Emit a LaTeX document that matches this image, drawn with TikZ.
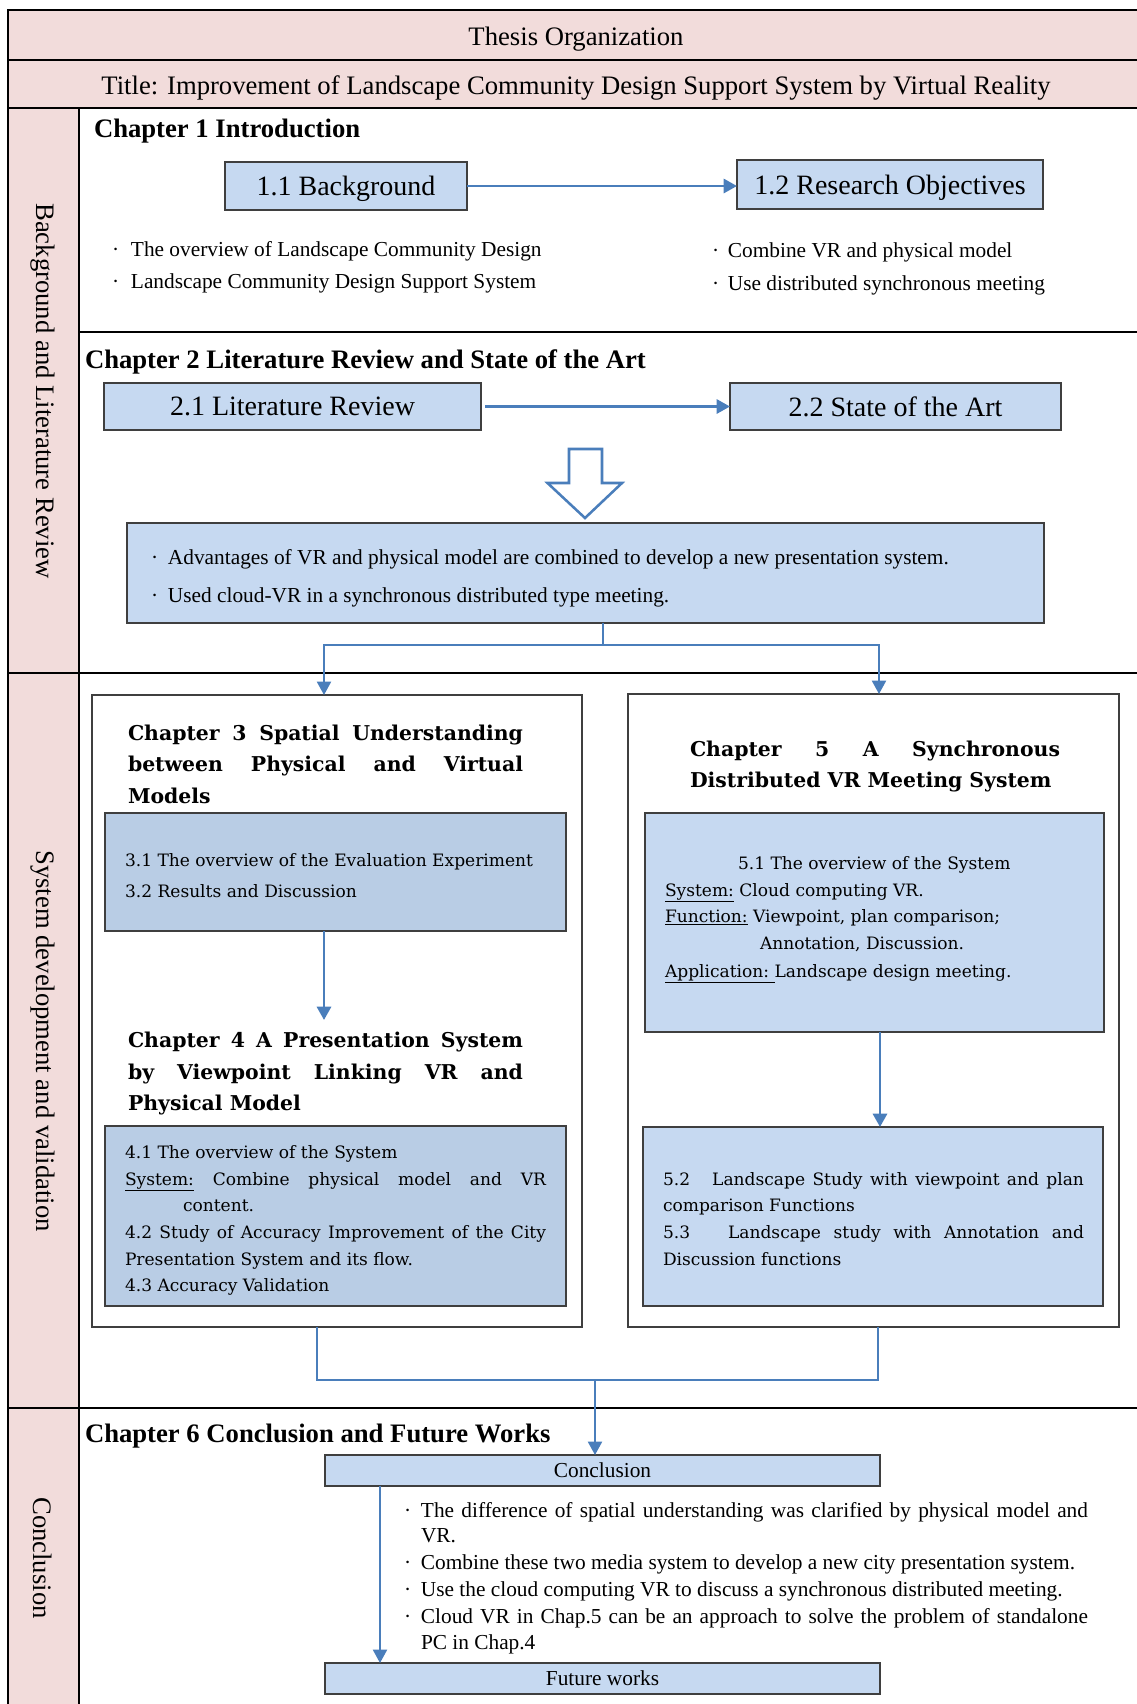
\documentclass[tikz,border=0pt]{standalone}
\usepackage{fontspec}
\setmainfont{Liberation Serif}
\newfontfamily\cent{DejaVu Serif}
\usetikzlibrary{arrows.meta}
\definecolor{pinkbg}{HTML}{F2DCDB}
\definecolor{boxblue}{HTML}{C6D9F1}
\definecolor{boxbluedk}{HTML}{B9CDE5}
\definecolor{linkblue}{HTML}{4A7EBB}
\definecolor{edgegray}{HTML}{3F3F3F}
\newcommand\pxw[1]{\dimexpr #1pt*3/4\relax}
\newcommand\fs[1]{\fontsize{#1pt}{#1pt}\selectfont}
\newcommand\bul[1]{\makebox[\pxw{#1}][l]{·}}
\begin{document}
\begin{tikzpicture}[x=0.75pt,y=-0.75pt,
  frameline/.style={line width=1.6pt,black},
  bluebox/.style={draw=edgegray,line width=0.9pt,fill=boxblue,inner sep=0pt,outer sep=0pt,text depth=0pt},
  darkbox/.style={bluebox,fill=boxbluedk},
  chbox/.style={draw=edgegray,line width=1.1pt,fill=white,inner sep=0pt,outer sep=0pt},
  txt/.style={anchor=mid west,inner sep=0pt,outer sep=0pt,yshift=-3pt},
  ctxt/.style={txt,font=\cent\fs{12.8}},
  ttl/.style={txt,font=\cent\bfseries\fs{15.3}},
  conn/.style={draw=linkblue,line width=1.5pt},
  arrow/.style={draw=linkblue,line width=2.2pt,-{Triangle[width=10.5pt,length=10pt]}},
]
\useasboundingbox (0,0) rectangle (1137,1704);
% ---------- frame ----------
\fill[pinkbg] (8,10) rectangle (1137,108);
\fill[pinkbg] (8,108) rectangle (79,1704);
\draw[frameline] (1137,10) -- (8,10) -- (8,1704);
\draw[frameline] (8,60) -- (1137,60);
\draw[frameline] (8,108) -- (1137,108);
\draw[frameline] (79,108) -- (79,1704);
\draw[frameline] (79,332) -- (1137,332);
\draw[frameline] (8,673) -- (1137,673);
\draw[frameline] (8,1408) -- (1137,1408);
\node[font=\fs{20},text depth=0pt] (hdr) at (576,36) {Thesis Organization};
\node[font=\fs{20},text depth=0pt] (title) at (576,85) {Title: Improvement of Landscape Community Design Support System by Virtual Reality};
\node[rotate=-90,font=\fs{20}] (sec1) at (43,391) {Background and Literature Review};
\node[rotate=-90,font=\fs{20}] (sec2) at (43,1041) {System development and validation};
\node[rotate=-90,font=\fs{20}] (sec3) at (43,1558) {Conclusion};
% ---------- chapter 1 ----------
\node[txt,font=\bfseries\fs{20}] (ch1) at (94,130) {Chapter 1 Introduction};
\node[bluebox,minimum width=181.5pt,minimum height=36pt,font=\fs{21}] (b11) at (346,186) {1.1 Background};
\node[bluebox,minimum width=229.5pt,minimum height=36.75pt,font=\fs{21}] (b12) at (890,184.5) {1.2 Research Objectives};
\draw[arrow] (b11.east) -- (b12.west |- b11.east);
\node[txt,font=\fs{16}] (l11a) at (112,249) {\bul{19}The overview of Landscape Community Design};
\node[txt,font=\fs{16}] (l11b) at (112,281.5) {\bul{19}Landscape Community Design Support System};
\node[txt,font=\fs{16}] (l12a) at (712,250) {\bul{16}Combine VR and physical model};
\node[txt,font=\fs{16}] (l12b) at (712,283) {\bul{16}Use distributed synchronous meeting};
% ---------- chapter 2 ----------
\node[txt,font=\bfseries\fs{20}] (ch2) at (85,361) {Chapter 2 Literature Review and State of the Art};
\node[bluebox,minimum width=282.75pt,minimum height=35.25pt,font=\fs{21}] (b21) at (292.5,406.5) {2.1 Literature Review};
\node[bluebox,minimum width=248.25pt,minimum height=35.25pt,font=\fs{21}] (b22) at (895.5,406.5) {2.2 State of the Art};
\draw[arrow,shorten <=3pt] (b21.east) -- (b22.west);
\draw[draw=linkblue,line width=1.9pt,fill=white] (569,449) -- (602,449) -- (602,483) -- (622,483) -- (585,518) -- (547.5,483) -- (569,483) -- cycle;
\node[bluebox,minimum width=687.75pt,minimum height=75pt] (bsum) at (585.5,573) {};
\node[txt,font=\fs{16}] (ls1) at (151,557) {\bul{17}Advantages of VR and physical model are combined to develop a new presentation system.};
\node[txt,font=\fs{16}] (ls2) at (151,595) {\bul{17}Used cloud-VR in a synchronous distributed type meeting.};
\coordinate (j1) at (603,645);
\coordinate (jl) at (324,645);
\coordinate (jr) at (879,645);
% ---------- chapter 3 / 4 ----------
\node[chbox,minimum width=367.5pt,minimum height=474pt] (ch3) at (337,1011) {};
\node[ttl] (t3a) at (128,733) {\makebox[\pxw{395}][s]{Chapter 3 Spatial Understanding}};
\node[ttl] (t3b) at (128,764) {\makebox[\pxw{395}][s]{between Physical and Virtual}};
\node[ttl] (t3c) at (128,796) {Models};
\node[darkbox,minimum width=345.75pt,minimum height=88.5pt] (b31) at (335.5,872) {};
\node[ctxt] (l31) at (125,859) {3.1 The overview of the Evaluation Experiment};
\node[ctxt] (l32) at (125,890) {3.2 Results and Discussion};
\coordinate (c4) at (324,1020);
\draw[arrow] (b31.south -| c4) -- (c4);
\node[ttl] (t4a) at (128,1040) {\makebox[\pxw{395}][s]{Chapter 4 A Presentation System}};
\node[ttl] (t4b) at (128,1072) {\makebox[\pxw{395}][s]{by Viewpoint Linking VR and}};
\node[ttl] (t4c) at (128,1103) {Physical Model};
\node[darkbox,minimum width=345.75pt,minimum height=135pt] (b41) at (335.5,1216) {};
\node[ctxt] (l41) at (125,1151) {4.1 The overview of the System};
\node[ctxt] (l41s) at (125,1178) {\makebox[\pxw{421}][s]{\underline{System:} Combine physical model and VR}};
\node[ctxt] (l41c) at (183,1204) {content.};
\node[ctxt] (l42) at (125,1231) {\makebox[\pxw{421}][s]{4.2 Study of Accuracy Improvement of the City}};
\node[ctxt] (l42b) at (125,1258) {Presentation System and its flow.};
\node[ctxt] (l43) at (125,1284) {4.3 Accuracy Validation};
% ---------- chapter 5 ----------
\node[chbox,minimum width=368.25pt,minimum height=474.75pt] (ch5) at (873.5,1010.5) {};
\node[ttl] (t5a) at (690,749) {\makebox[\pxw{370}][s]{Chapter 5 A Synchronous}};
\node[ttl] (t5b) at (690,780) {Distributed VR Meeting System};
\node[bluebox,minimum width=344.25pt,minimum height=164.25pt] (b51) at (874.5,922.5) {};
\node[ctxt] (l51) at (738,862) {5.1 The overview of the System};
\node[ctxt] (l51s) at (665,889) {\underline{System:} Cloud computing VR.};
\node[ctxt] (l51f) at (665,915) {\underline{Function:} Viewpoint, plan comparison;};
\node[ctxt] (l51g) at (760,942) {Annotation, Discussion.};
\node[ctxt] (l51a) at (665,970) {\underline{Application:\ }Landscape design meeting.};
\node[bluebox,minimum width=345pt,minimum height=134.25pt] (b52) at (873,1216.5) {};
\coordinate (c52) at (880,1127);
\draw[arrow] (b51.south -| c52) -- (b52.north -| c52);
\node[ctxt] (l52) at (663,1178) {\makebox[\pxw{421}][s]{5.2\ \ \ Landscape Study with viewpoint and plan}};
\node[ctxt] (l52b) at (663,1204) {comparison Functions};
\node[ctxt] (l53) at (663,1231) {\makebox[\pxw{421}][s]{5.3\ \ \ Landscape study with Annotation and}};
\node[ctxt] (l53b) at (663,1258) {Discussion functions};
% connectors from summary
\draw[conn] (bsum.south -| j1) -- (j1);
\draw[arrow,line width=1.5pt] (j1) -- (jl) -- (jl |- ch3.north);
\draw[arrow,line width=1.5pt] (j1) -- (jr) -- (jr |- ch5.north);
% ---------- chapter 6 ----------
\node[txt,font=\bfseries\fs{20}] (ch6) at (85,1435) {Chapter 6 Conclusion and Future Works};
\node[bluebox,minimum width=416.25pt,minimum height=23.25pt,font=\fs{16}] (concl) at (602.5,1470.5) {Conclusion};
\node[bluebox,minimum width=416.25pt,minimum height=23.25pt,font=\fs{16}] (fw) at (602.5,1678.5) {Future works};
\coordinate (m3) at (317,1380);
\coordinate (m5) at (878,1380);
\coordinate (mm) at (595,1380);
\draw[conn] (ch3.south -| m3) -- (m3) -- (m5) -- (ch5.south -| m5);
\draw[arrow,line width=1.5pt] (mm) -- (concl.north -| mm);
\coordinate (cf) at (380,1486);
\draw[arrow,line width=1.5pt] (concl.south -| cf) -- (fw.north -| cf);
\node[txt,font=\fs{16}] (lc1) at (404,1510) {\bul{17}\makebox[\pxw{667}][s]{The difference of spatial understanding was clarified by physical model and}};
\node[txt,font=\fs{16}] (lc1b) at (421,1535) {VR.};
\node[txt,font=\fs{16}] (lc2) at (404,1562) {\bul{17}Combine these two media system to develop a new city presentation system.};
\node[txt,font=\fs{16}] (lc3) at (404,1589) {\bul{17}Use the cloud computing VR to discuss a synchronous distributed meeting.};
\node[txt,font=\fs{16}] (lc4) at (404,1616) {\bul{17}\makebox[\pxw{667}][s]{Cloud VR in Chap.5 can be an approach to solve the problem of standalone}};
\node[txt,font=\fs{16}] (lc4b) at (421,1642) {PC in Chap.4};
\end{tikzpicture}
\end{document}
